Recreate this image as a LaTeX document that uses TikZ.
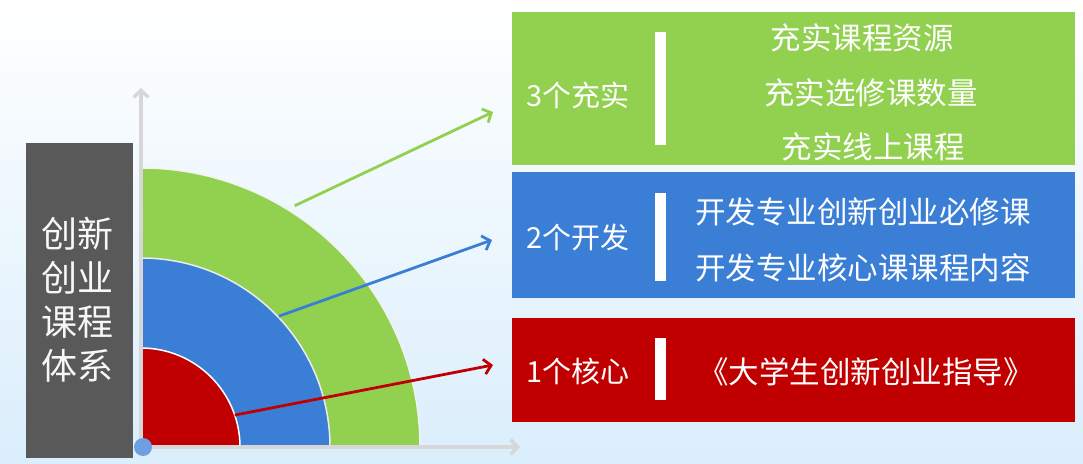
\documentclass[tikz,border=0pt]{standalone}
\usepackage{fontspec}
\newfontfamily\cjk{Noto Sans CJK SC}
\usetikzlibrary{positioning, arrows.meta}

\definecolor{ringgreen}{RGB}{146,208,80}
\definecolor{ringblue}{RGB}{58,127,213}
\definecolor{ringred}{RGB}{192,0,0}
\definecolor{sidegray}{RGB}{89,89,89}
\definecolor{axisgray}{RGB}{215,215,218}
\definecolor{dotblue}{RGB}{110,160,225}
\definecolor{skyblue}{RGB}{218,238,252}

\tikzset{
    >={Straight Barb[length=7pt,width=15pt]}, % open barb heads as in the slide
    panel/.style={minimum width=563pt, inner sep=0pt},
    bar/.style={fill=white, minimum width=11pt, inner sep=0pt},
    tag/.style={text=white, font=\cjk\fontsize{29}{34}\selectfont, inner sep=0pt},
    item/.style={text=white, font=\cjk\fontsize{30.5}{36}\selectfont, inner sep=0pt},
    pointer/.style={->, line width=2.8pt},
    axis/.style={->, draw=axisgray, line width=3.5pt},
    }

\begin{document}
\begin{tikzpicture}[x=1pt, y=1pt]
\useasboundingbox (0,0) rectangle (1083,463);
\shade[top color=white, middle color=white, bottom color=skyblue] (0,0) rectangle (1083,463);

% quarter rings
\coordinate (O) at (141,16);
\filldraw[fill=ringgreen, draw=white!90!gray, line width=1.5pt] (O) -- ++(279,0) arc (0:90:279) -- cycle;
\filldraw[fill=ringblue, draw=white!85!gray, line width=1.5pt] (O) -- ++(189,0) arc (0:90:189) -- cycle;
\filldraw[fill=ringred, draw=white, line width=1.5pt] (O) -- ++(99,0) arc (0:90:99) -- cycle;

% axes
\coordinate (ytip) at (141,375);
\coordinate (xtip) at (520,16);
\draw[axis] (O) -- (ytip);
\draw[axis] (O) -- (xtip);
\node[circle, fill=dotblue, minimum size=18pt, inner sep=0pt] (dot) at (143,16) {};

% side title
\node[fill=sidegray, minimum width=107pt, minimum height=315pt, inner sep=0pt] (side) at (79.5,162.5) {};
\node[text=white!94!gray, font=\cjk\fontsize{36}{44}\selectfont, align=center, inner sep=0pt] (sidetext) at (77,163) {创新\\创业\\课程\\体系};

% panels
\node[panel, fill=ringgreen, minimum height=153pt] (core3) at (793.5,374.5) {};
\node[panel, fill=ringblue, minimum height=126pt] (core2) at (793.5,228) {};
\node[panel, fill=ringred, minimum height=104pt] (core1) at (793.5,93) {};

\node[bar, minimum height=113pt] (bar3) at (660,374.5) {};
\node[bar, minimum height=88pt] (bar2) at (660,226) {};
\node[bar, minimum height=62pt] (bar1) at (660,94) {};

\node[tag] (tag3) at (578,368) {3个充实};
\node[tag] (tag2) at (578,226) {2个开发};
\node[tag] (tag1) at (578,92) {1个核心};

\node[item] (green1) at (862,425) {充实课程资源};
\node[item] (green2) at (871,370) {充实选修课数量};
\node[item] (green3) at (873,316) {充实线上课程};
\node[item, anchor=west] (blue1) at (695,251) {开发专业创新创业必修课};
\node[item, anchor=west] (blue2) at (695,195) {开发专业核心课课程内容};
\node[item] (red1) at (866,91) {《大学生创新创业指导》};

% pointers from the rings
\coordinate (ring1) at ([shift={(18.8:99)}]O);
\coordinate (ring2) at ([shift={(43.5:190)}]O);
\coordinate (ring3) at ([shift={(57.5:286)}]O);
\coordinate (end1) at (493,98);
\coordinate (end2) at (492,223);
\coordinate (end3) at (493,351);
\draw[pointer, ringred] (ring1) -- (end1);
\draw[pointer, ringblue] (ring2) -- (end2);
\draw[pointer, ringgreen] (ring3) -- (end3);

\end{tikzpicture}
\end{document}
